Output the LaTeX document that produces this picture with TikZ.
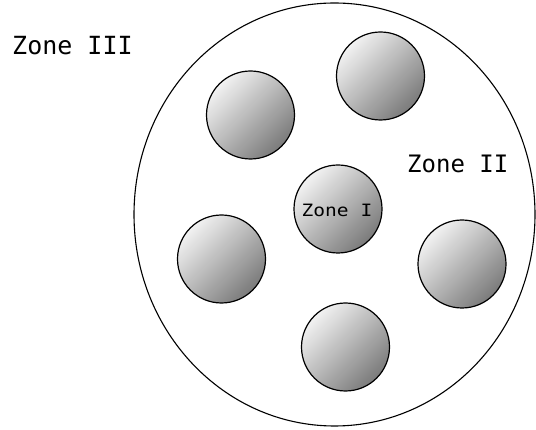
\documentclass[tikz,border=0pt]{standalone}
\usepackage{fontspec}
\usetikzlibrary{shapes.geometric}
\newfontfamily\zonefont{DejaVu Sans Mono}
\begin{document}
\begin{tikzpicture}[x=1pt,y=-1pt,
  ball/.style={circle, draw=black, line width=1.2pt, minimum size=88pt, inner sep=0pt,
    top color=black!5, bottom color=black!52, shading angle=45},
  zone/.style={inner sep=0pt, anchor=base west}]
\useasboundingbox (0,0) rectangle (536,430);
\node[draw=black, line width=1.1pt, ellipse, minimum width=401pt, minimum height=423pt, inner sep=0pt] (outer) at (334.5,214.5) {};
\node[ball] (b1) at (250.5,115) {};
\node[ball] (b2) at (380.5,76) {};
\node[ball] (b0) at (338,209) {};
\node[ball] (b3) at (221.5,259) {};
\node[ball] (b4) at (462,264) {};
\node[ball] (b5) at (345.5,347) {};
\node[zone, font={\zonefont\fontsize{25}{30}\selectfont}] (z3) at (12,55) {Zone III};
\node[zone, font={\zonefont\fontsize{24}{28}\selectfont}] (z2) at (407,173) {Zone II};
\node[inner sep=0pt, anchor=base, font={\zonefont\fontsize{17}{20}\selectfont}] (z1) at (337,217) {\scalebox{1.15}[1]{Zone I}};
\end{tikzpicture}
\end{document}
